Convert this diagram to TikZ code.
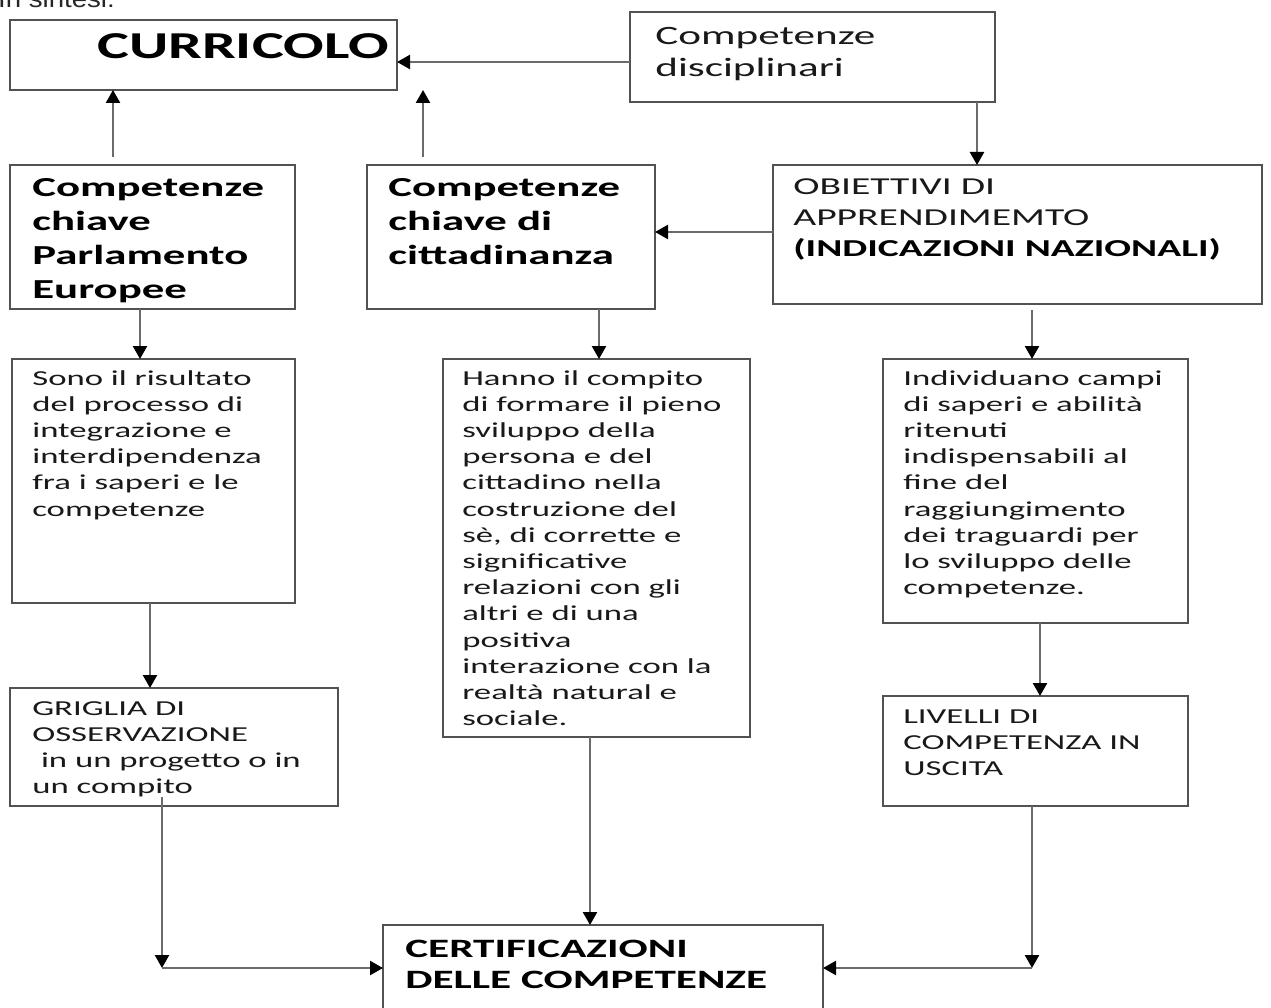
\documentclass[tikz,border=0pt]{standalone}
\usepackage{fontspec}
\setmainfont{Carlito}
\newfontfamily\insfont{Liberation Sans}
\usetikzlibrary{arrows.meta,calc}
\newcommand{\mylines}[1]{\parbox[t]{700pt}{\raggedright #1}}
\begin{document}
\begin{tikzpicture}[x=1pt,y=-1pt,
  box/.style={draw=black!68, line width=2.7pt, rectangle, inner sep=0pt, outer sep=0pt, anchor=north west},
  txt/.style={anchor=base west, inner sep=0pt, xscale=1.63, text=black!90},
  bodyf/.style={font=\fontsize{21.3}{26.2}\selectfont},
  boldf/.style={font=\bfseries\fontsize{27.5}{33.7}\selectfont, text=black},
  arr/.style={draw=black!58, line width=2.4pt, -{Triangle[length=13pt,width=14pt,color=black]}}]
\useasboundingbox (0,0) rectangle (1271,1008);
\clip (0,0) rectangle (1271,1008);
\fill[white] (0,0) rectangle (1271,1008);

% top cut text
\node[anchor=base west, inner sep=0pt, font=\insfont\fontsize{24}{28}\selectfont, xscale=1.15, text=black!85] (ins) at (-2,8) {In sintesi.};

% boxes
\node[box, minimum width=387pt, minimum height=70pt] (curr) at (10,20) {};
\node[box, minimum width=365pt, minimum height=90pt] (disc) at (630,12) {};
\node[box, minimum width=285pt, minimum height=144pt] (parl) at (10,165) {};
\node[box, minimum width=288pt, minimum height=144pt] (citt) at (367,165) {};
\node[box, minimum width=489pt, minimum height=139pt] (obj) at (773,165) {};
\node[box, minimum width=283pt, minimum height=244pt] (sono) at (12,359) {};
\node[box, minimum width=307pt, minimum height=378pt] (hanno) at (443,359) {};
\node[box, minimum width=305pt, minimum height=264pt] (indiv) at (883,359) {};
\node[box, minimum width=328pt, minimum height=118pt] (grig) at (10,688) {};
\node[box, minimum width=305pt, minimum height=110pt] (liv) at (883,696) {};
\node[box, minimum width=440pt, minimum height=86pt] (cert) at (383,925) {};

% texts
\node[txt, xscale=0.97, font=\bfseries\fontsize{38}{42}\selectfont, text=black] (tcurr) at (97,59) {CURRICOLO};
\node[txt, font=\fontsize{26.5}{32}\selectfont] (tdisc) at (655,45) {\mylines{Competenze\\disciplinari}};
\node[txt, boldf] (tparl) at (32,197) {\mylines{Competenze\\chiave\\Parlamento\\Europee}};
\node[txt, boldf] (tcitt) at (388,197) {\mylines{Competenze\\chiave di\\cittadinanza}};
\node[txt, font=\fontsize{24.3}{31}\selectfont] (tobj) at (793,195) {\mylines{OBIETTIVI DI\\APPRENDIMEMTO\\\textbf{\textcolor{black}{(INDICAZIONI NAZIONALI)}}}};
\node[txt, bodyf] (tsono) at (32,385) {\mylines{Sono il risultato\\del processo di\\integrazione e\\interdipendenza\\fra i saperi e le\\competenze}};
\node[txt, bodyf] (thanno) at (462,385) {\mylines{Hanno il compito\\di formare il pieno\\sviluppo della\\persona e del\\cittadino nella\\costruzione del\\sè, di corrette e\\significative\\relazioni con gli\\altri e di una\\positiva\\interazione con la\\realtà natural e\\sociale.}};
\node[txt, bodyf] (tindiv) at (903,385) {\mylines{Individuano campi\\di saperi e abilità\\ritenuti\\indispensabili al\\fine del\\raggiungimento\\dei traguardi per\\lo sviluppo delle\\competenze.}};
\node[txt, bodyf] (tgrig) at (32,715) {\mylines{GRIGLIA DI\\OSSERVAZIONE\\\hspace*{0.25em}in un progetto o in\\un compito}};
\node[txt, bodyf] (tliv) at (903,723) {\mylines{LIVELLI DI\\COMPETENZA IN\\USCITA}};
\node[txt, font=\bfseries\fontsize{26.5}{31}\selectfont, text=black] (tcert) at (405,957) {\mylines{CERTIFICAZIONI\\DELLE COMPETENZE}};

% connectors
\draw[arr] ([yshift=-5pt]disc.west) -- ([yshift=-5pt]disc.west -| curr.east);
\draw[arr] ([xshift=164.5pt]disc.south) -- ([xshift=164.5pt]disc.south |- obj.north);
\draw[arr] ([xshift=-39.5pt,yshift=8pt]parl.north) -- ([xshift=-39.5pt]parl.north |- curr.south);
\draw[arr] ([xshift=-88pt,yshift=8pt]citt.north) -- ([xshift=-88pt]citt.north |- curr.south);
\draw[arr] ([yshift=2.5pt]obj.west) -- ([yshift=2.5pt]obj.west -| citt.east);
\draw[arr] ([xshift=-12.5pt]parl.south) -- ([xshift=-12.5pt]parl.south |- sono.north);
\draw[arr] ([xshift=88pt]citt.south) -- ([xshift=88pt]citt.south |- hanno.north);
\draw[arr] ([xshift=14.5pt,yshift=-6pt]obj.south) -- ([xshift=14.5pt]obj.south |- indiv.north);
\draw[arr] ([xshift=-3.5pt]sono.south) -- ([xshift=-3.5pt]sono.south |- grig.north);
\draw[arr] ([xshift=4.5pt]indiv.south) -- ([xshift=4.5pt]indiv.south |- liv.north);
\draw[arr] ([xshift=-6.5pt]hanno.south) -- ([xshift=-6.5pt]hanno.south |- cert.north);
\draw[arr] ([xshift=-12pt,yshift=9pt]grig.south) -- ([xshift=-12pt]grig.south |- cert.west) coordinate (cl);
\draw[arr] (cl) -- (cert.west);
\draw[arr] ([xshift=-3.5pt]liv.south) -- ([xshift=-3.5pt]liv.south |- cert.east) coordinate (cr);
\draw[arr] (cr) -- (cert.east);
\end{tikzpicture}
\end{document}
